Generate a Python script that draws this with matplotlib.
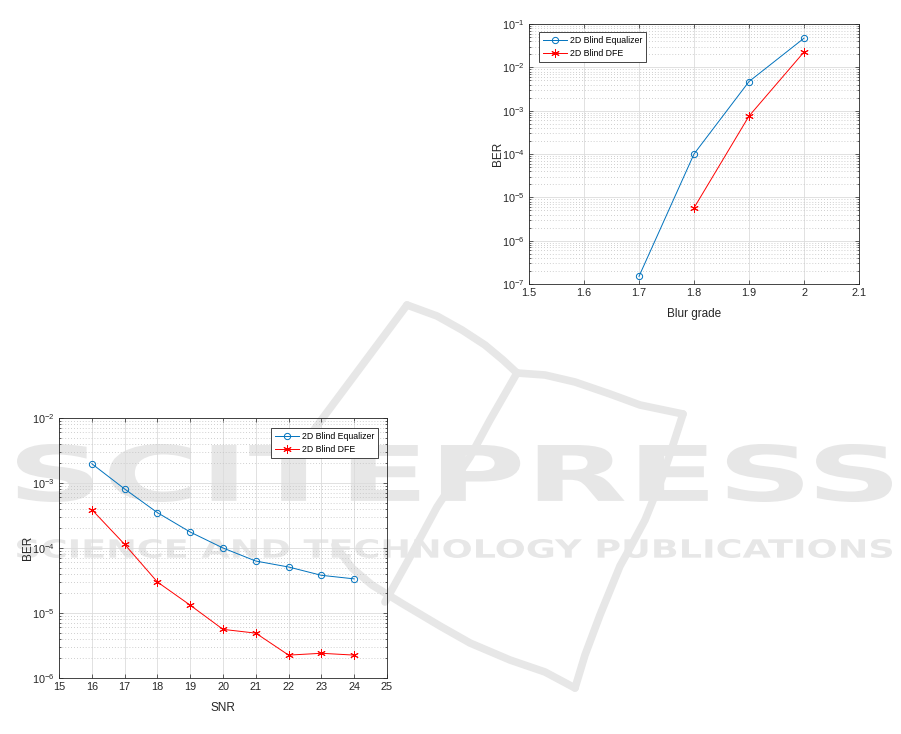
import numpy as np
import matplotlib
matplotlib.use("Agg")
import matplotlib.pyplot as plt
from matplotlib.textpath import TextPath
from matplotlib.font_manager import FontProperties
from matplotlib.patches import PathPatch
from matplotlib.path import Path
from matplotlib.ticker import NullLocator, LogLocator

plt.rcParams["font.family"] = ["Liberation Sans", "DejaVu Sans"]

# blur grade plot
blur = [1.7, 1.8, 1.9, 2.0]
blur_eq = [1.5e-7, 1.0e-4, 4.7e-3, 4.7e-2]
blur_dfe_x = [1.8, 1.9, 2.0]
blur_dfe = [5.7e-6, 7.5e-4, 2.26e-2]

# SNR plot
snr = [16, 17, 18, 19, 20, 21, 22, 23, 24]
snr_eq = [1.98e-3, 8.1e-4, 3.5e-4, 1.76e-4, 1.0e-4, 6.3e-5, 5.1e-5, 3.8e-5, 3.35e-5]
snr_dfe = [3.9e-4, 1.14e-4, 3.0e-5, 1.32e-5, 5.6e-6, 4.9e-6, 2.25e-6, 2.4e-6, 2.25e-6]

labels = ["2D Blind Equalizer", "2D Blind DFE"]
BLUE = "#0072BD"
RED = "#FF0000"
W, H = 901, 734
WM = "#e7e7e7"

fig = plt.figure(figsize=(W / 100, H / 100), dpi=100)


def px_axes(x0, y0, x1, y1):
    return fig.add_axes([x0 / W, 1 - y1 / H, (x1 - x0) / W, (y1 - y0) / H])


def to_fig(v):
    v = np.asarray(v, dtype=float)
    return np.column_stack([v[:, 0] / W, 1 - v[:, 1] / H])


def stretched_text(s, x0, x1, ytop, ybot):
    tp = TextPath((0, 0), s, size=100, prop=FontProperties(family="DejaVu Sans", weight="bold"))
    bb = tp.get_extents()
    v = tp.vertices.copy()
    px = x0 + (v[:, 0] - bb.x0) / bb.width * (x1 - x0)
    py = ybot - (v[:, 1] - bb.y0) / bb.height * (ybot - ytop)
    p = Path(to_fig(np.column_stack([px, py])), tp.codes)
    fig.add_artist(PathPatch(p, facecolor=WM, edgecolor="none", transform=fig.transFigure, zorder=-2))


def stroke(pts):
    xy = to_fig(pts)
    fig.add_artist(plt.Line2D(xy[:, 0], xy[:, 1], color=WM, lw=5.5, solid_capstyle="round",
                              solid_joinstyle="round", transform=fig.transFigure, zorder=-2))


# watermark
stroke([(407, 305), (290, 462)])
stroke([(407, 305), (437, 316), (462, 330), (485, 345), (503, 360), (517, 373)])
stroke([(517, 373), (545, 375), (575, 382), (610, 394), (640, 405), (683, 414)])
stroke([(683, 414), (672, 448), (662, 478), (645, 520), (630, 548), (620, 566), (600, 615), (585, 655), (575, 688)])
stroke([(335, 545), (352, 568), (372, 585), (403, 604), (440, 626), (470, 643), (510, 660), (545, 672), (575, 688)])
stroke([(517, 373), (490, 420), (470, 457), (437, 507), (410, 557), (385, 602)])
stretched_text("SCITEPRESS", 17, 892, 444, 502)
stretched_text("SCIENCE AND TECHNOLOGY PUBLICATIONS", 17, 892, 539, 558)


def style(ax, xlim, xticks, ylim, ylabel, xlabel):
    ax.set_facecolor("none")
    ax.set_yscale("log")
    ax.set_xlim(*xlim)
    ax.set_ylim(*ylim)
    ax.set_xticks(xticks)
    ax.set_xticklabels([f"{t:g}" for t in xticks])
    lo, hi = int(np.log10(ylim[0])), int(np.log10(ylim[1]))
    ax.set_yticks([10.0 ** k for k in range(lo, hi + 1)])
    ax.yaxis.set_minor_locator(LogLocator(base=10, subs=np.arange(2, 10), numticks=20))
    ax.xaxis.set_minor_locator(NullLocator())
    ax.tick_params(which="both", direction="in", top=True, right=True, colors="#262626",
                   labelsize=7.8, width=0.5)
    ax.tick_params(which="major", length=3, pad=3)
    ax.tick_params(which="minor", length=1.5)
    ax.grid(which="major", color="#dcdcdc", lw=0.6)
    ax.yaxis.grid(which="minor", color="#c0c0c0", lw=0.6, ls=(0, (1, 2.5)))
    ax.set_axisbelow(True)
    for sp in ax.spines.values():
        sp.set_color("#262626")
        sp.set_linewidth(0.6)
    ax.set_xlabel(xlabel, fontsize=8.5, color="#262626", labelpad=7)
    ax.set_ylabel(ylabel, fontsize=8.5, color="#262626", labelpad=-1)


ax1 = px_axes(529, 24, 859, 284)
ax1.plot(blur, blur_eq, "-o", color=BLUE, lw=0.7, ms=4.5, mfc="none", mew=0.7, label=labels[0])
ax1.plot(blur_dfe_x, blur_dfe, "-", marker=(6, 2, 0), color=RED, lw=0.7, ms=6, mew=0.7, label=labels[1])
style(ax1, (1.5, 2.1), [1.5, 1.6, 1.7, 1.8, 1.9, 2.0, 2.1], (1e-7, 1e-1), "BER", "Blur grade")
leg1 = ax1.legend(loc="upper left", bbox_to_anchor=(0.03, 0.969), borderaxespad=0, fontsize=6.3,
                  fancybox=False, edgecolor="#262626", framealpha=1, handlelength=2.8,
                  borderpad=0.45, labelspacing=0.45, handletextpad=0.3)
leg1.get_frame().set_linewidth(0.6)

ax2 = px_axes(59, 418, 387, 678)
ax2.plot(snr, snr_eq, "-o", color=BLUE, lw=0.7, ms=4.5, mfc="none", mew=0.7, label=labels[0])
ax2.plot(snr, snr_dfe, "-", marker=(6, 2, 0), color=RED, lw=0.7, ms=6, mew=0.7, label=labels[1])
style(ax2, (15, 25), list(range(15, 26)), (1e-6, 1e-2), "BER", "SNR")
leg2 = ax2.legend(loc="upper right", bbox_to_anchor=(0.973, 0.962), borderaxespad=0, fontsize=6.3,
                  fancybox=False, edgecolor="#262626", framealpha=1, handlelength=2.8,
                  borderpad=0.45, labelspacing=0.45, handletextpad=0.3)
leg2.get_frame().set_linewidth(0.6)

fig.savefig("out.png", dpi=100)
